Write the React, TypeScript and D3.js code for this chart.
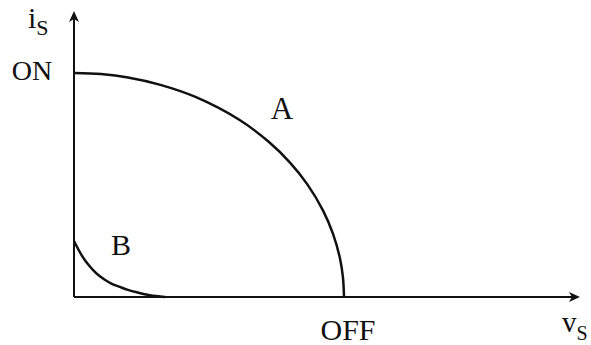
import React from "react";
import * as d3 from "d3";

// Curve A (normalized v / V_OFF, i / I_ON)
const vA = [0, 0.1, 0.2, 0.32, 0.45, 0.615, 0.72, 0.8, 0.863, 0.922, 0.959, 0.985, 0.996, 1.0];
const iA = [1, 0.995, 0.98, 0.947, 0.893, 0.789, 0.694, 0.6, 0.505, 0.387, 0.283, 0.173, 0.089, 0];
// Curve B
const vB = [0, 0.015, 0.027, 0.04, 0.052, 0.07, 0.089, 0.114, 0.14, 0.17, 0.2, 0.233, 0.281, 0.337];
const iB = [0.25, 0.215, 0.189, 0.165, 0.146, 0.121, 0.099, 0.077, 0.059, 0.045, 0.032, 0.021, 0.008, 0];
// Axis extents (in data units)
const xAxisMax = 1.874;
const yAxisMax = 1.277;
const labels = { on: "ON", off: "OFF", a: "A", b: "B" };

const W = 591;
const H = 345;

export default function App() {
  const x = d3.scaleLinear().domain([0, 1]).range([74, 344]);
  const y = d3.scaleLinear().domain([0, 1]).range([297, 73]);

  const line = d3
    .line<[number, number]>()
    .x((d) => x(d[0]))
    .y((d) => y(d[1]))
    .curve(d3.curveCatmullRom.alpha(0.5));

  const ptsA: [number, number][] = vA.map((v, i) => [v, iA[i]]);
  const ptsB: [number, number][] = vB.map((v, i) => [v, iB[i]]);

  const x0 = x(0);
  const y0 = y(0);
  const xEnd = x(xAxisMax);
  const yEnd = y(yAxisMax);
  const font = "'Times New Roman', 'Liberation Serif', Times, serif";

  return (
    <svg
      width={W}
      height={H}
      style={{ position: "absolute", left: 0, top: 0, background: "#fff" }}
    >
      {/* axes */}
      <line x1={x0} y1={y0} x2={xEnd - 6} y2={y0} stroke="#111" strokeWidth={2} />
      <line x1={x0} y1={y0} x2={x0} y2={yEnd + 6} stroke="#111" strokeWidth={2} />
      <path
        d={`M${xEnd},${y0} L${xEnd - 11},${y0 - 5} L${xEnd - 8},${y0} L${xEnd - 11},${y0 + 5} Z`}
        fill="#111"
      />
      <path
        d={`M${x0},${yEnd} L${x0 - 5},${yEnd + 11} L${x0},${yEnd + 8} L${x0 + 5},${yEnd + 11} Z`}
        fill="#111"
      />
      {/* curves */}
      <path d={line(ptsA) || ""} fill="none" stroke="#111" strokeWidth={2.5} />
      <path d={line(ptsB) || ""} fill="none" stroke="#111" strokeWidth={2.5} />
      {/* labels */}
      <g fontFamily={font} fill="#111">
        <text x={32} y={80} fontSize={28} textAnchor="middle">{labels.on}</text>
        <text x={348} y={340} fontSize={30} textAnchor="middle">{labels.off}</text>
        <text x={282} y={119} fontSize={31} textAnchor="middle">{labels.a}</text>
        <text x={121} y={255} fontSize={30} textAnchor="middle">{labels.b}</text>
        <text x={28} y={28} fontSize={30}>
          i<tspan fontSize={22} dy={7}>S</tspan>
        </text>
        <text x={562} y={332} fontSize={29}>
          v<tspan fontSize={20} dy={8}>S</tspan>
        </text>
      </g>
    </svg>
  );
}
